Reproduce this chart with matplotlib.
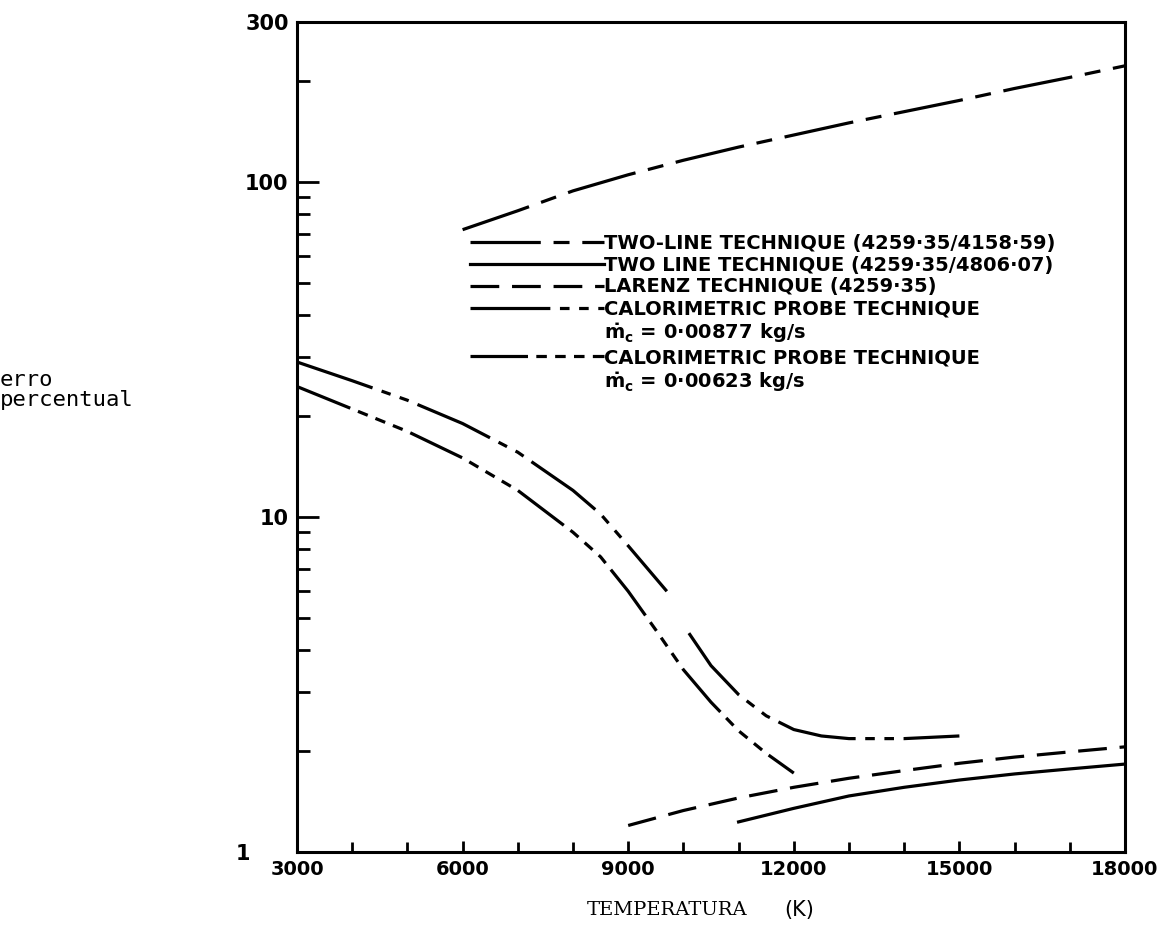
import matplotlib
matplotlib.use("Agg")
import matplotlib.pyplot as plt
from matplotlib.lines import Line2D
from matplotlib.ticker import FixedLocator, NullFormatter
from matplotlib.transforms import ScaledTranslation

# values: temperature (K) vs percentage error
two_line_a_t = [6000, 7000, 8000, 9000, 10000, 11000, 12000, 13000, 14000, 15000, 16000, 17000, 18000]
two_line_a_err = [72, 82, 94, 105, 116, 127, 138, 150, 162, 175, 190, 205, 222]

two_line_b_t = [11000, 12000, 13000, 14000, 15000, 16000, 17000, 18000]
two_line_b_err = [1.23, 1.35, 1.47, 1.56, 1.64, 1.71, 1.77, 1.83]

larenz_t = [9000, 10000, 11000, 12000, 13000, 14000, 15000, 16000, 17000, 18000]
larenz_err = [1.2, 1.33, 1.45, 1.56, 1.66, 1.75, 1.84, 1.92, 1.99, 2.06]

# calorimetric probe, mc = 0.00877 kg/s (drawn in two pieces in the original)
calor_877_t1 = [3000, 4000, 5000, 6000, 7000, 8000, 8500, 9000, 9700]
calor_877_err1 = [29, 25.5, 22.3, 19.0, 15.6, 12.0, 10.2, 8.2, 6.0]
calor_877_t2 = [10100, 10500, 11000, 11500, 12000, 12500, 13000, 14000, 15000]
calor_877_err2 = [4.5, 3.6, 2.95, 2.55, 2.32, 2.22, 2.18, 2.18, 2.22]

# calorimetric probe, mc = 0.00623 kg/s
calor_623_t = [3000, 4000, 5000, 6000, 7000, 8000, 8500, 9000, 9500, 10000, 10500, 11000, 11500, 12000]
calor_623_err = [24.5, 21.0, 18.0, 15.0, 12.0, 9.0, 7.6, 6.0, 4.6, 3.5, 2.8, 2.3, 1.97, 1.72]

x_major = [3000, 6000, 9000, 12000, 15000, 18000]
x_minor = list(range(3000, 18001, 1000))
y_major = [1, 10, 100, 300]
y_major_labels = ["1", "10", "100", "300"]

legend_labels = [
    "TWO-LINE TECHNIQUE (4259·35/4158·59)",
    "TWO LINE TECHNIQUE (4259·35/4806·07)",
    "LARENZ TECHNIQUE (4259·35)",
    "CALORIMETRIC PROBE TECHNIQUE",
    r"$\mathbf{\dot{m}_c}$ = 0·00877 kg/s",
    "CALORIMETRIC PROBE TECHNIQUE",
    r"$\mathbf{\dot{m}_c}$ = 0·00623 kg/s",
]

style_a = (0, (22, 4, 5, 4))
style_b = "-"
style_c = (0, (9, 4))
style_d = (0, (25, 3, 3, 3, 3, 3))
style_e = (0, (18, 2.6, 3.3, 2.6, 3.3, 2.6, 3.3, 2.6))

lw = 2.3
fig = plt.figure(figsize=(11.67, 9.4), dpi=100)
ax = fig.add_axes([0.2545, 0.0936, 0.7095, 0.883])

ax.plot(two_line_a_t, two_line_a_err, color="black", lw=lw, linestyle=style_a)
ax.plot(two_line_b_t, two_line_b_err, color="black", lw=lw, linestyle=style_b)
ax.plot(larenz_t, larenz_err, color="black", lw=lw, linestyle=style_c)
ax.plot(calor_877_t1, calor_877_err1, color="black", lw=lw, linestyle=style_d)
ax.plot(calor_877_t2, calor_877_err2, color="black", lw=lw, linestyle=style_d)
ax.plot(calor_623_t, calor_623_err, color="black", lw=lw, linestyle=style_e)

ax.set_yscale("log")
ax.set_xlim(3000, 18000)
ax.set_ylim(1, 300)

ax.xaxis.set_major_locator(FixedLocator(x_major))
ax.xaxis.set_minor_locator(FixedLocator(x_minor))
ax.set_xticklabels([str(v) for v in x_major])
ax.yaxis.set_major_locator(FixedLocator(y_major))
ax.set_yticklabels(y_major_labels)
ax.yaxis.set_minor_formatter(NullFormatter())

ax.tick_params(which="both", direction="in", width=2, colors="black")
ax.tick_params(axis="y", which="major", length=16, pad=6)
ax.tick_params(axis="y", which="minor", length=9)
ax.tick_params(axis="x", which="major", length=8, pad=6)
ax.tick_params(axis="x", which="minor", length=7)
for lab in ax.get_yticklabels():
    lab.set_fontweight("bold")
    lab.set_fontsize(15)
for lab in ax.get_xticklabels():
    lab.set_fontweight("bold")
    lab.set_fontsize(14)
# the "1" sits further left, clear of the "3000" below it
one_lab = ax.get_yticklabels()[0]
one_lab.set_transform(one_lab.get_transform() + ScaledTranslation(-28 / 72, 0, fig.dpi_scale_trans))
for sp in ax.spines.values():
    sp.set_linewidth(2.2)

handles = [
    Line2D([], [], color="black", lw=lw, linestyle=style_a),
    Line2D([], [], color="black", lw=lw, linestyle=style_b),
    Line2D([], [], color="black", lw=lw, linestyle=style_c),
    Line2D([], [], color="black", lw=lw, linestyle=style_d),
    Line2D([], [], linestyle="none"),
    Line2D([], [], color="black", lw=lw, linestyle=style_e),
    Line2D([], [], linestyle="none"),
]
leg = ax.legend(handles, legend_labels, loc="upper left", bbox_to_anchor=(0.209, 0.745),
                frameon=False, handlelength=6.9, handletextpad=0.0, labelspacing=0.15,
                borderpad=0, borderaxespad=0,
                prop={"weight": "bold", "size": 14})

fig.text(0.0, 0.585, "erro\npercentual", family="DejaVu Sans Mono", fontsize=16,
         ha="left", va="center", linespacing=1.0)
fig.text(0.572, 0.032, "TEMPERATURA", family="DejaVu Serif", fontsize=14, ha="center", va="center")
fig.text(0.685, 0.032, "(K)", family="DejaVu Sans", fontsize=15, ha="center", va="center")

fig.savefig("out.png", dpi=100)
